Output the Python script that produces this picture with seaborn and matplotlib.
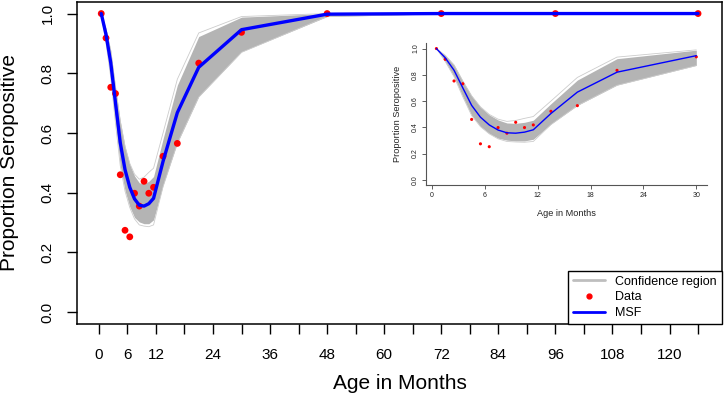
import matplotlib
matplotlib.use("Agg")
import matplotlib.pyplot as plt
from matplotlib.lines import Line2D
import seaborn as sns

# age (months) at which data / model are evaluated
ages = [0.5, 1.5, 2.5, 3.5, 4.5, 5.5, 6.5, 7.5, 8.5, 9.5, 10.5, 11.5,
        13.5, 16.5, 21, 30, 48, 72, 96, 126]
# observed proportion seropositive
data = [1.0, 0.918, 0.753, 0.732, 0.46, 0.274, 0.252, 0.398, 0.355, 0.438,
        0.398, 0.418, 0.522, 0.565, 0.834, 0.937, 1.0, 1.0, 1.0, 1.0]
# fitted MSF curve
msf = [1.0, 0.93, 0.835, 0.70, 0.567, 0.477, 0.418, 0.379, 0.358, 0.355,
       0.363, 0.381, 0.505, 0.668, 0.82, 0.946, 0.998, 1.0, 1.0, 1.0]
# confidence region (envelope of simulated curves)
lower = [1.0, 0.902, 0.786, 0.632, 0.49, 0.407, 0.353, 0.317, 0.302, 0.296,
         0.296, 0.309, 0.425, 0.567, 0.722, 0.872, 0.99, 0.999, 1.0, 1.0]
upper = [1.0, 0.949, 0.876, 0.753, 0.64, 0.554, 0.495, 0.456, 0.433, 0.43,
         0.438, 0.454, 0.58, 0.76, 0.923, 0.988, 1.0, 1.0, 1.0, 1.0]
# a few stray simulated curves outside the bulk
outer_hi = [1.0, 0.949, 0.876, 0.753, 0.64, 0.556, 0.498, 0.462, 0.445,
            0.452, 0.468, 0.482, 0.60, 0.78, 0.935, 0.99, 1.0, 1.0, 1.0, 1.0]
outer_lo = [1.0, 0.902, 0.786, 0.632, 0.49, 0.405, 0.35, 0.312, 0.292,
            0.288, 0.286, 0.292, 0.42, 0.565, 0.72, 0.87, 0.99, 0.999, 1.0, 1.0]

main_xticks = list(range(0, 127, 6))
main_xlabels = [0, 6, 12, 24, 36, 48, 60, 72, 84, 96, 108, 120]
inset_xticks = [0, 6, 12, 18, 24, 30]
yticks = [0.0, 0.2, 0.4, 0.6, 0.8, 1.0]

sns.set_style("ticks")
plt.rcParams["font.family"] = ["Liberation Sans", "DejaVu Sans"]
plt.rcParams["text.color"] = "black"
plt.rcParams["axes.labelcolor"] = "black"
plt.rcParams["xtick.color"] = "black"
plt.rcParams["ytick.color"] = "black"

band = "#b4b4b4"
fig = plt.figure(figsize=(7.24, 4.03), dpi=100)
ax = fig.add_axes([0.107, 0.196, 0.890, 0.800])


def draw(ax, n, lw, s):
    a, d, m = ages[:n], data[:n], msf[:n]
    ax.fill_between(a, lower[:n], upper[:n], color=band, lw=0)
    ax.plot(a, outer_hi[:n], color="#cccccc", lw=0.6)
    ax.plot(a, outer_lo[:n], color="#cccccc", lw=0.6)
    sns.scatterplot(x=a, y=d, color="red", s=s, edgecolor="none", ax=ax, zorder=3)
    sns.lineplot(x=a, y=m, color="blue", lw=lw, ax=ax, zorder=4)


draw(ax, len(ages), 2.4, 24)
ax.set_xlim(-4.5, 131)
ax.set_ylim(-0.04, 1.04)
ax.set_xticks(main_xticks)
ax.set_xticklabels([str(t) if t in main_xlabels else "" for t in main_xticks])
ax.set_yticks(yticks)
ax.set_yticklabels([f"{v:.1f}" for v in yticks], rotation=90, va="center")
ax.tick_params(length=7.5, width=1, labelsize=11, color="black", labelcolor="black")
ax.tick_params(axis="x", pad=10)
ax.tick_params(axis="y", pad=9)
for sp in ax.spines.values():
    sp.set_linewidth(1.1)
    sp.set_color("black")
ax.set_xlabel("Age in Months", fontsize=15, va="center", color="black")
ax.set_ylabel("Proportion Seropositive", fontsize=15, va="center", color="black")
ax.xaxis.set_label_coords(0.5, -0.183)
ax.yaxis.set_label_coords(-0.105, 0.5)

handles = [Line2D([], [], color="#bebebe", lw=2),
           Line2D([], [], color="red", marker="o", ls="none", markersize=3.5),
           Line2D([], [], color="blue", lw=2)]
leg = ax.legend(handles, ["Confidence region", "Data", "MSF"], loc="lower right",
                bbox_to_anchor=(1.0, 0.0), borderaxespad=0, fancybox=False,
                framealpha=1, edgecolor="black", fontsize=9, handlelength=2.6,
                labelspacing=0.3, borderpad=0.4)
leg.get_frame().set_linewidth(1)
for t in leg.get_texts():
    t.set_color("black")

# inset: first 30 months
ins = fig.add_axes([0.5884, 0.5409, 0.3877, 0.3516])
draw(ins, 16, 1.0, 5)
ins.set_xlim(-0.68, 31.18)
ins.set_ylim(-0.04, 1.04)
ins.set_xticks(inset_xticks)
ins.set_yticks(yticks)
ins.set_yticklabels([f"{v:.1f}" for v in yticks], rotation=90, va="center")
ins.tick_params(length=3, width=0.6, labelsize=5, pad=2, color="#444444",
                labelcolor="#222222")
for name, sp in ins.spines.items():
    if name in ("top", "right"):
        sp.set_visible(False)
    else:
        sp.set_linewidth(0.8)
        sp.set_color("#555555")
ins.set_xlabel("Age in Months", fontsize=6.6, va="center", color="#222222")
ins.set_ylabel("Proportion Seropositive", fontsize=6.6, va="center", color="#222222")
ins.xaxis.set_label_coords(0.5, -0.198)
ins.yaxis.set_label_coords(-0.102, 0.5)

fig.savefig("out.png", dpi=100)
